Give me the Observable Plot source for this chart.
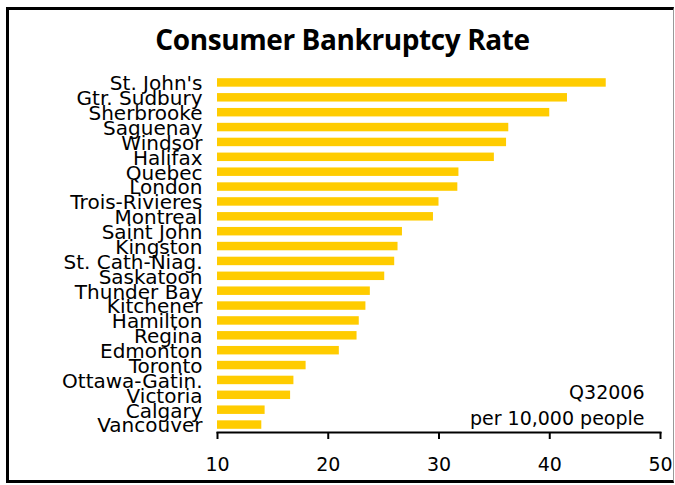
<!DOCTYPE html>
<html>
<head>
<meta charset="utf-8">
<script src="https://cdn.jsdelivr.net/npm/d3@7"></script>
<script src="https://cdn.jsdelivr.net/npm/@observablehq/plot@0.6"></script>
<style>
  html, body { margin: 0; padding: 0; background: #fff; }
  #frame {
    position: absolute; left: 6px; top: 7px; width: 668px; height: 476px;
    box-sizing: border-box;
    border-left: 3px solid #000; border-top: 3px solid #000;
    border-bottom: 3px solid #000; border-right: 1px solid #999;
  }
  #title {
    position: absolute; left: 0; width: 685px; top: 21px; text-align: center;
    font-family: "Open Sans", sans-serif; font-weight: bold; font-size: 28px;
    line-height: 36px; color: #000; letter-spacing: -0.4px;
  }
  #chart { position: absolute; left: 0; top: 0; }
</style>
</head>
<body>
<div id="frame"></div>
<div id="title">Consumer Bankruptcy Rate</div>
<div id="chart"></div>
<script>
const cities = ["St. John's","Gtr. Sudbury","Sherbrooke","Saguenay","Windsor","Halifax","Quebec","London","Trois-Rivieres","Montreal","Saint John","Kingston","St. Cath-Niag.","Saskatoon","Thunder Bay","Kitchener","Hamilton","Regina","Edmonton","Toronto","Ottawa-Gatin.","Victoria","Calgary","Vancouver"];
const rates = [45.1,41.6,40.0,36.3,36.1,35.0,31.8,31.7,30.0,29.5,26.7,26.3,26.0,25.1,23.8,23.4,22.8,22.6,21.0,18.0,16.9,16.6,14.3,14.0];
const xTicks = [10,20,30,40,50];
const period = "Q32006";
const unit = "per 10,000 people";

const data = cities.map((c, i) => ({city: c, value: rates[i]}));

const plot = Plot.plot({
  width: 675,
  height: 485,
  marginLeft: 217,
  marginRight: 15,
  marginTop: 75,
  marginBottom: 53,
  style: {fontFamily: "DejaVu Sans, sans-serif", color: "#000", background: "transparent"},
  x: {domain: [10, 50]},
  y: {domain: cities, round: false, paddingInner: 0.43, paddingOuter: 0.215},
  marks: [
    Plot.barX(data, {x: "value", y: "city", fill: "#FFCC00", clip: true}),
    Plot.axisY({tickSize: 0, tickPadding: 15, fontSize: 20, dy: 1, label: null}),
    Plot.axisX({ticks: xTicks, tickSize: 7, tickPadding: 18, fontSize: 19, strokeWidth: 2, label: null}),
    Plot.frame({anchor: "bottom", stroke: "#000", strokeWidth: 2}),
    Plot.text([period], {text: d => d, frameAnchor: "bottom-right", dx: -16, dy: -40, lineAnchor: "middle", textAnchor: "end", fontSize: 19}),
    Plot.text([unit], {text: d => d, frameAnchor: "bottom-right", dx: -16, dy: -14, lineAnchor: "middle", textAnchor: "end", fontSize: 19})
  ]
});
document.getElementById("chart").appendChild(plot);
</script>
</body>
</html>
